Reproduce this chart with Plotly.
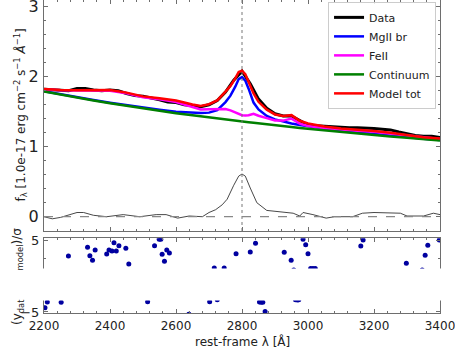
import plotly.graph_objects as go

# ---------------- data ----------------
lam_model = [2200, 2250, 2300, 2350, 2400, 2450, 2500, 2550, 2600, 2650, 2675, 2700,
             2725, 2750, 2765, 2780, 2790, 2800, 2810, 2820, 2835, 2850, 2875, 2900,
             2925, 2950, 2975, 3000, 3050, 3100, 3150, 3200, 3250, 3300, 3350, 3400]
continuum = [1.790, 1.745, 1.702, 1.660, 1.621, 1.583, 1.547, 1.513, 1.479, 1.448, 1.432, 1.417,
             1.402, 1.388, 1.379, 1.371, 1.366, 1.360, 1.355, 1.349, 1.341, 1.332, 1.319, 1.306,
             1.293, 1.281, 1.269, 1.257, 1.233, 1.211, 1.189, 1.168, 1.147, 1.128, 1.108, 1.090]
mgii_br = [1.794, 1.750, 1.708, 1.667, 1.629, 1.593, 1.559, 1.528, 1.499, 1.483, 1.482, 1.487,
           1.522, 1.638, 1.729, 1.861, 1.966, 1.995, 1.945, 1.829, 1.631, 1.532, 1.439, 1.391,
           1.358, 1.331, 1.311, 1.292, 1.259, 1.231, 1.205, 1.181, 1.158, 1.137, 1.115, 1.096]
feii = [1.820, 1.805, 1.802, 1.800, 1.801, 1.763, 1.707, 1.678, 1.639, 1.568, 1.532, 1.537,
        1.542, 1.538, 1.519, 1.491, 1.466, 1.450, 1.445, 1.449, 1.471, 1.442, 1.409, 1.376,
        1.373, 1.401, 1.329, 1.297, 1.263, 1.241, 1.229, 1.213, 1.187, 1.158, 1.128, 1.110]
model_tot = [1.824, 1.810, 1.808, 1.807, 1.809, 1.773, 1.719, 1.693, 1.659, 1.603, 1.582, 1.607,
             1.662, 1.788, 1.869, 1.981, 2.066, 2.085, 2.035, 1.929, 1.761, 1.642, 1.529, 1.461,
             1.438, 1.451, 1.371, 1.332, 1.289, 1.261, 1.245, 1.226, 1.198, 1.167, 1.135, 1.116]

lam_data = [2200, 2225, 2250, 2275, 2300, 2325, 2350, 2375, 2400, 2425, 2450, 2475, 2500,
            2525, 2550, 2575, 2600, 2625, 2650, 2675, 2700, 2725, 2750, 2775, 2800, 2825,
            2850, 2875, 2900, 2925, 2950, 2975, 3000, 3025, 3050, 3075, 3100, 3125, 3150,
            3175, 3200, 3225, 3250, 3275, 3300, 3325, 3350, 3375, 3400]
flux_data = [1.82, 1.81, 1.80, 1.80, 1.83, 1.83, 1.81, 1.80, 1.81, 1.80, 1.76, 1.73, 1.72,
             1.70, 1.67, 1.64, 1.63, 1.60, 1.58, 1.57, 1.60, 1.66, 1.78, 1.95, 2.08, 1.90,
             1.68, 1.55, 1.47, 1.44, 1.44, 1.38, 1.31, 1.30, 1.29, 1.28, 1.27, 1.27, 1.27,
             1.27, 1.26, 1.25, 1.24, 1.21, 1.18, 1.16, 1.15, 1.15, 1.13]

lam_line = [2200, 2225, 2250, 2275, 2300, 2320, 2350, 2390, 2440, 2490, 2540, 2570, 2605,
            2640, 2680, 2700, 2720, 2740, 2755, 2775, 2790, 2800, 2810, 2825, 2845, 2875,
            2915, 2955, 2975, 2985, 3015, 3055, 3080, 3135, 3165, 3200, 3280, 3300, 3350,
            3380, 3400]
line_flux = [0.00, -0.03, -0.01, 0.02, 0.06, 0.06, 0.02, 0.00, 0.03, 0.00, 0.03, 0.03, -0.02,
             0.01, 0.00, 0.06, 0.10, 0.17, 0.25, 0.45, 0.58, 0.61, 0.58, 0.41, 0.20, 0.09,
             0.07, 0.05, 0.01, 0.06, 0.03, -0.02, 0.00, 0.00, 0.05, 0.06, 0.05, 0.01, 0.01,
             0.05, 0.03]

res_lam = [2274, 2332, 2339, 2347, 2355, 2390, 2397, 2406, 2412, 2419, 2427, 2448, 2457,
           2535, 2549, 2554, 2558, 2565, 2572, 2580, 2716, 2746, 2782, 2825, 2841, 2928,
           2949, 2957, 2985, 2993, 3000, 3008, 3015, 3022, 3160, 3167, 3298, 3346, 3355,
           3363, 3398,
           2203, 2210, 2252, 2514, 2639, 2702, 2725, 2853, 2858, 2863, 2870, 2962, 2968, 2972]
res_val = [2.78, 3.98, 2.82, 2.18, 3.61, 3.06, 3.61, 3.47, 4.63, 3.47, 4.21, 3.85, 1.67,
           4.21, 5.10, 5.10, 3.01, 2.04, 3.61, 3.19, 1.10, 1.10, 3.10, 3.33, 4.54, 3.29,
           2.18, 0.85, 5.10, 4.35, 3.10, 1.05, 1.05, 1.05, 4.17, 5.00, 1.76, 0.85, 2.87,
           4.26, 5.00,
           -4.40, -3.61, -3.65, -3.57, -5.30, -3.57, -3.30, -3.60, -3.65, -3.65, -4.93, -3.30, -3.35, -3.30]

x_ticks = [2200, 2400, 2600, 2800, 3000, 3200, 3400]
y_ticks_main = [0, 1, 2, 3]
y_ticks_res = [-5, 5]
line_center = 2800

FONT = "DejaVu Sans"
AXC = "#6e6e6e"
TXT = "#222222"

fig = go.Figure()
fig.add_trace(go.Scatter(x=lam_data, y=flux_data, mode="lines", name="Data",
                         line=dict(color="black", width=3), xaxis="x", yaxis="y"))
fig.add_trace(go.Scatter(x=lam_model, y=mgii_br, mode="lines", name="MgII br",
                         line=dict(color="#0000ff", width=2.5), xaxis="x", yaxis="y"))
fig.add_trace(go.Scatter(x=lam_model, y=feii, mode="lines", name="FeII",
                         line=dict(color="#ff00ff", width=2.5), xaxis="x", yaxis="y"))
fig.add_trace(go.Scatter(x=lam_model, y=continuum, mode="lines", name="Continuum",
                         line=dict(color="#008000", width=2.5), xaxis="x", yaxis="y"))
fig.add_trace(go.Scatter(x=lam_model, y=model_tot, mode="lines", name="Model tot",
                         line=dict(color="#ff0000", width=2.5), xaxis="x", yaxis="y"))
fig.add_trace(go.Scatter(x=lam_line, y=line_flux, mode="lines", showlegend=False,
                         line=dict(color="#333333", width=0.9), xaxis="x", yaxis="y"))
fig.add_trace(go.Scatter(x=res_lam, y=res_val, mode="markers", showlegend=False,
                         marker=dict(color="#0000a0", size=5), xaxis="x2", yaxis="y2"))

# reference lines
fig.add_shape(type="line", xref="x", yref="y domain", x0=line_center, x1=line_center,
              y0=0, y1=1, line=dict(color="#777777", width=1, dash="dot"))
fig.add_shape(type="line", xref="x domain", yref="y", x0=0, x1=1, y0=0, y1=0,
              line=dict(color="#888888", width=1.3, dash="dash"))
# white band hiding the middle of the residual panel
fig.add_shape(type="rect", xref="paper", yref="paper", x0=-0.2, x1=1.1,
              y0=0.0399, y1=0.1422, fillcolor="white", line=dict(width=0), layer="above")

common_x = dict(range=[2200, 3400], tickvals=x_ticks, showline=True, linecolor=AXC,
                linewidth=1, mirror="ticks", ticks="inside", ticklen=4, tickcolor=AXC,
                minor=dict(ticks="inside", dtick=40, ticklen=2, tickcolor=AXC),
                showgrid=False, zeroline=False, automargin=False,
                ticklabeloverflow="allow")

fig.update_layout(
    width=455, height=358,
    margin=dict(l=44, r=15, t=0, b=45),
    paper_bgcolor="white", plot_bgcolor="white",
    font=dict(family=FONT, color=TXT),
    xaxis=dict(common_x, anchor="y", domain=[0, 1], showticklabels=False),
    yaxis=dict(domain=[0.262, 1], range=[-0.204, 3.096], tickvals=y_ticks_main,
               showline=True, linecolor=AXC, linewidth=1, mirror="ticks", ticks="inside",
               ticklen=4, tickcolor=AXC, tickfont=dict(size=16, family=FONT),
               minor=dict(ticks="inside", dtick=0.2, ticklen=2, tickcolor=AXC),
               showgrid=False, zeroline=False, automargin=False, ticklabelstandoff=1,
               ticklabeloverflow="allow"),
    xaxis2=dict(common_x, anchor="y2", domain=[0, 1], matches="x",
                tickfont=dict(size=12, family=FONT), ticklabelstandoff=2),
    yaxis2=dict(domain=[0, 0.2387], range=[-5.14, 5.24], tickvals=y_ticks_res,
                ticktext=["−5", "5"],
                showline=True, linecolor=AXC, linewidth=1, mirror="ticks", ticks="inside",
                ticklen=4, tickcolor=AXC, tickfont=dict(size=13, family=FONT),
                minor=dict(ticks="inside", dtick=2.5, ticklen=2, tickcolor=AXC),
                showgrid=False, zeroline=False, automargin=False, ticklabelstandoff=1,
                ticklabeloverflow="allow"),
    legend=dict(x=0.99, y=0.994, xanchor="right", yanchor="top",
                bgcolor="rgba(255,255,255,0.85)", bordercolor="#cccccc", borderwidth=1,
                font=dict(size=11, family=FONT, color=TXT)),
    showlegend=True,
)

fig.add_annotation(xref="paper", yref="paper", x=0, y=0.631, xshift=-23,
                   xanchor="center", yanchor="middle", textangle=-90, showarrow=False,
                   text="f<sub>λ</sub> [1.0e-17 erg cm<sup>−2</sup> s<sup>−1</sup> <i>Å</i><sup>−1</sup>]",
                   font=dict(size=12, family=FONT, color=TXT))
fig.add_annotation(xref="paper", yref="paper", x=0.5, y=-0.0895,
                   xanchor="center", yanchor="middle", showarrow=False,
                   text="rest-frame λ [Å]", font=dict(size=12, family=FONT, color=TXT))
# residual y label (its middle is hidden behind the white band, as in the reference)
fig.add_annotation(xref="paper", yref="paper", x=0, y=-0.0447, xshift=-26,
                   xanchor="center", yanchor="bottom", textangle=-90, showarrow=False,
                   text="(y<sub>dat</sub>", font=dict(size=12, family=FONT, color=TXT))
fig.add_annotation(xref="paper", yref="paper", x=0, y=0.278, xshift=-26,
                   xanchor="center", yanchor="top", textangle=-90, showarrow=False,
                   text="<sub>model</sub>)/σ", font=dict(size=12, family=FONT, color=TXT))

fig.write_html("out.html", config={"displayModeBar": False},
               post_script="document.body.style.margin='0';document.body.style.overflow='hidden';")
